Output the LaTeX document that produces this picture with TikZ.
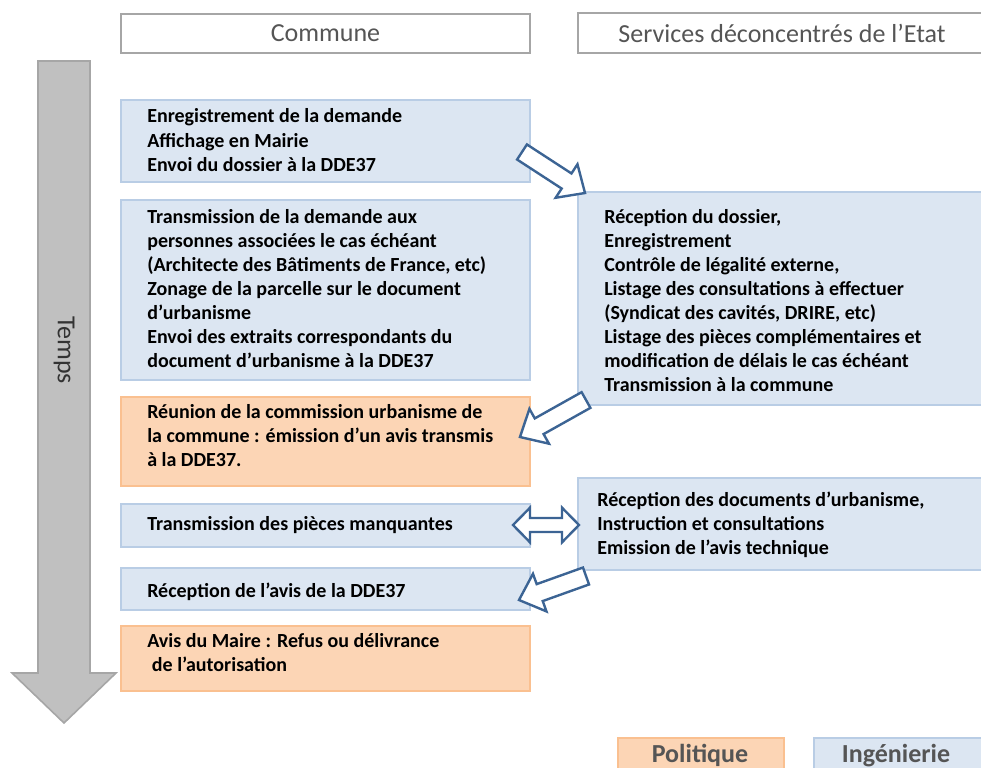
\documentclass[tikz,border=0pt]{standalone}
\usepackage{fontspec}
\setmainfont{Carlito}
\usetikzlibrary{calc}
\definecolor{bfill}{HTML}{DCE6F2}
\definecolor{bline}{HTML}{B9CDE5}
\definecolor{ofill}{HTML}{FCD5B5}
\definecolor{oline}{HTML}{FAC090}
\definecolor{hline}{HTML}{A6A6A6}
\definecolor{htext}{HTML}{555555}
\definecolor{aline}{HTML}{3C6494}
\definecolor{tfill}{HTML}{C0C0C0}
\definecolor{tline}{HTML}{A6A6A6}
\newcommand\hollowarrow[2]{%
  \draw[harrow] ($(#1)!\sw!90:(#2)$) -- ($(#2)!\hl!(#1)!\sw!-90:(#1)$)
    -- ($(#2)!\hl!(#1)!\hw!-90:(#1)$) -- (#2)
    -- ($(#2)!\hl!(#1)!\hw!90:(#1)$) -- ($(#2)!\hl!(#1)!\sw!90:(#1)$)
    -- ($(#1)!\sw!-90:(#2)$) -- cycle;}
\newcommand\sw{6.75pt}
\newcommand\hw{15pt}
\newcommand\hl{16.5pt}
\begin{document}
\begin{tikzpicture}[x=0.75pt,y=-0.75pt,
  sz/.style 2 args={minimum width=#1*0.75pt, minimum height=#2*0.75pt},
  box/.style={draw, line width=1.5pt, inner sep=0pt, anchor=north west},
  bluebox/.style={box, draw=bline, fill=bfill},
  orangebox/.style={box, draw=oline, fill=ofill},
  headbox/.style={box, draw=hline, fill=white, font=\fontsize{19.5}{22}\selectfont, text=htext},
  legtext/.style={anchor=base, inner sep=0pt, font=\fontsize{19.5}{22}\selectfont\bfseries, text=htext},
  txt/.style={anchor=base west, inner sep=0pt, align=left, font=\fontsize{15}{18}\selectfont\bfseries},
  harrow/.style={draw=aline, fill=white, line width=1.8pt, line join=miter},
  timearrow/.style={draw=tline, fill=tfill, line width=1.2pt, line join=miter},
]
\useasboundingbox (0,0) rectangle (981,767);
% headers
\node[headbox, sz={409}{39}] (hc) at (120,13) {Commune};
\node[headbox, sz={408}{40}] (hs) at (577,12) {Services déconcentrés de l’Etat};
% time arrow
\draw[timearrow] (38,61) -- (90,61) -- (90,673) -- (116,673) -- (64,723) -- (12,673) -- (38,673) -- cycle;
\node[rotate=-90, font=\fontsize{19.5}{22}\selectfont, text=black!80] (temps) at (64,350) {Temps};
% left column
\node[bluebox, sz={409}{82}] (b1) at (120,99) {};
\node[bluebox, sz={409}{180}] (b2) at (120,199) {};
\node[orangebox, sz={409}{89}] (b3) at (120,396) {};
\node[bluebox, sz={409}{43}] (b4) at (120,503) {};
\node[bluebox, sz={409}{42}] (b5) at (120,567) {};
\node[orangebox, sz={409}{65}] (b6) at (120,625) {};
% right column
\node[bluebox, sz={408}{213}] (ra) at (577,191) {};
\node[bluebox, sz={408}{92}] (rb) at (577,477) {};
% legend
\node[orangebox, sz={166}{40}] (lp) at (617,737) {};
\node[bluebox, sz={172}{40}] (li) at (813,737) {};
\node[legtext] (lpt) at (700,762) {Politique};
\node[legtext] (lit) at (896,762) {Ingénierie};
% texts (anchored at the baseline of their last line)
\node[txt] (t1) at (147,171) {Enregistrement de la demande\\Affichage en Mairie\\Envoi du dossier à la DDE37};
\node[txt] (t2) at (147,367) {Transmission de la demande aux\\personnes associées  le cas échéant\\(Architecte des Bâtiments de France, etc)\\Zonage de la parcelle sur le document\\d’urbanisme\\Envoi des extraits correspondants du\\document d’urbanisme à la DDE37};
\node[txt] (t3) at (147,466) {Réunion de la commission urbanisme de\\la commune : émission d’un avis transmis\\à la DDE37.};
\node[txt] (t4) at (147,530) {Transmission des pièces manquantes};
\node[txt] (t5) at (147,597) {Réception de l’avis de la DDE37};
\node[txt] (t6) at (147,671) {Avis du Maire : Refus ou délivrance\\\hspace*{3.5pt}de l’autorisation};
\node[txt] (ta) at (604,391) {Réception du dossier,\\Enregistrement\\Contrôle de légalité externe,\\Listage des consultations à effectuer\\(Syndicat des cavités, DRIRE, etc)\\Listage des pièces complémentaires et\\modification de délais le cas échéant\\Transmission à la commune};
\node[txt] (tb) at (597,554) {Réception des documents d’urbanisme,\\Instruction et consultations\\Emission de l’avis technique};
% hollow arrows
\coordinate (a1s) at (522,152); \coordinate (a1t) at (585,193);
\coordinate (a2s) at (586,400); \coordinate (a2t) at (520,437);
\coordinate (a4s) at (586,576); \coordinate (a4t) at (519,600);
\hollowarrow{a1s}{a1t}
\hollowarrow{a2s}{a2t}
\hollowarrow{a4s}{a4t}
\coordinate (ds) at (513,525); \coordinate (dt) at (579,525);
\draw[harrow] (ds) -- ($(ds)!12.75pt!(dt)!13pt!90:(dt)$) -- ($(ds)!12.75pt!(dt)!5.25pt!90:(dt)$)
  -- ($(dt)!12.75pt!(ds)!5.25pt!-90:(ds)$) -- ($(dt)!12.75pt!(ds)!13pt!-90:(ds)$) -- (dt)
  -- ($(dt)!12.75pt!(ds)!13pt!90:(ds)$) -- ($(dt)!12.75pt!(ds)!5.25pt!90:(ds)$)
  -- ($(ds)!12.75pt!(dt)!5.25pt!-90:(dt)$) -- ($(ds)!12.75pt!(dt)!13pt!-90:(dt)$) -- cycle;
\end{tikzpicture}
\end{document}
